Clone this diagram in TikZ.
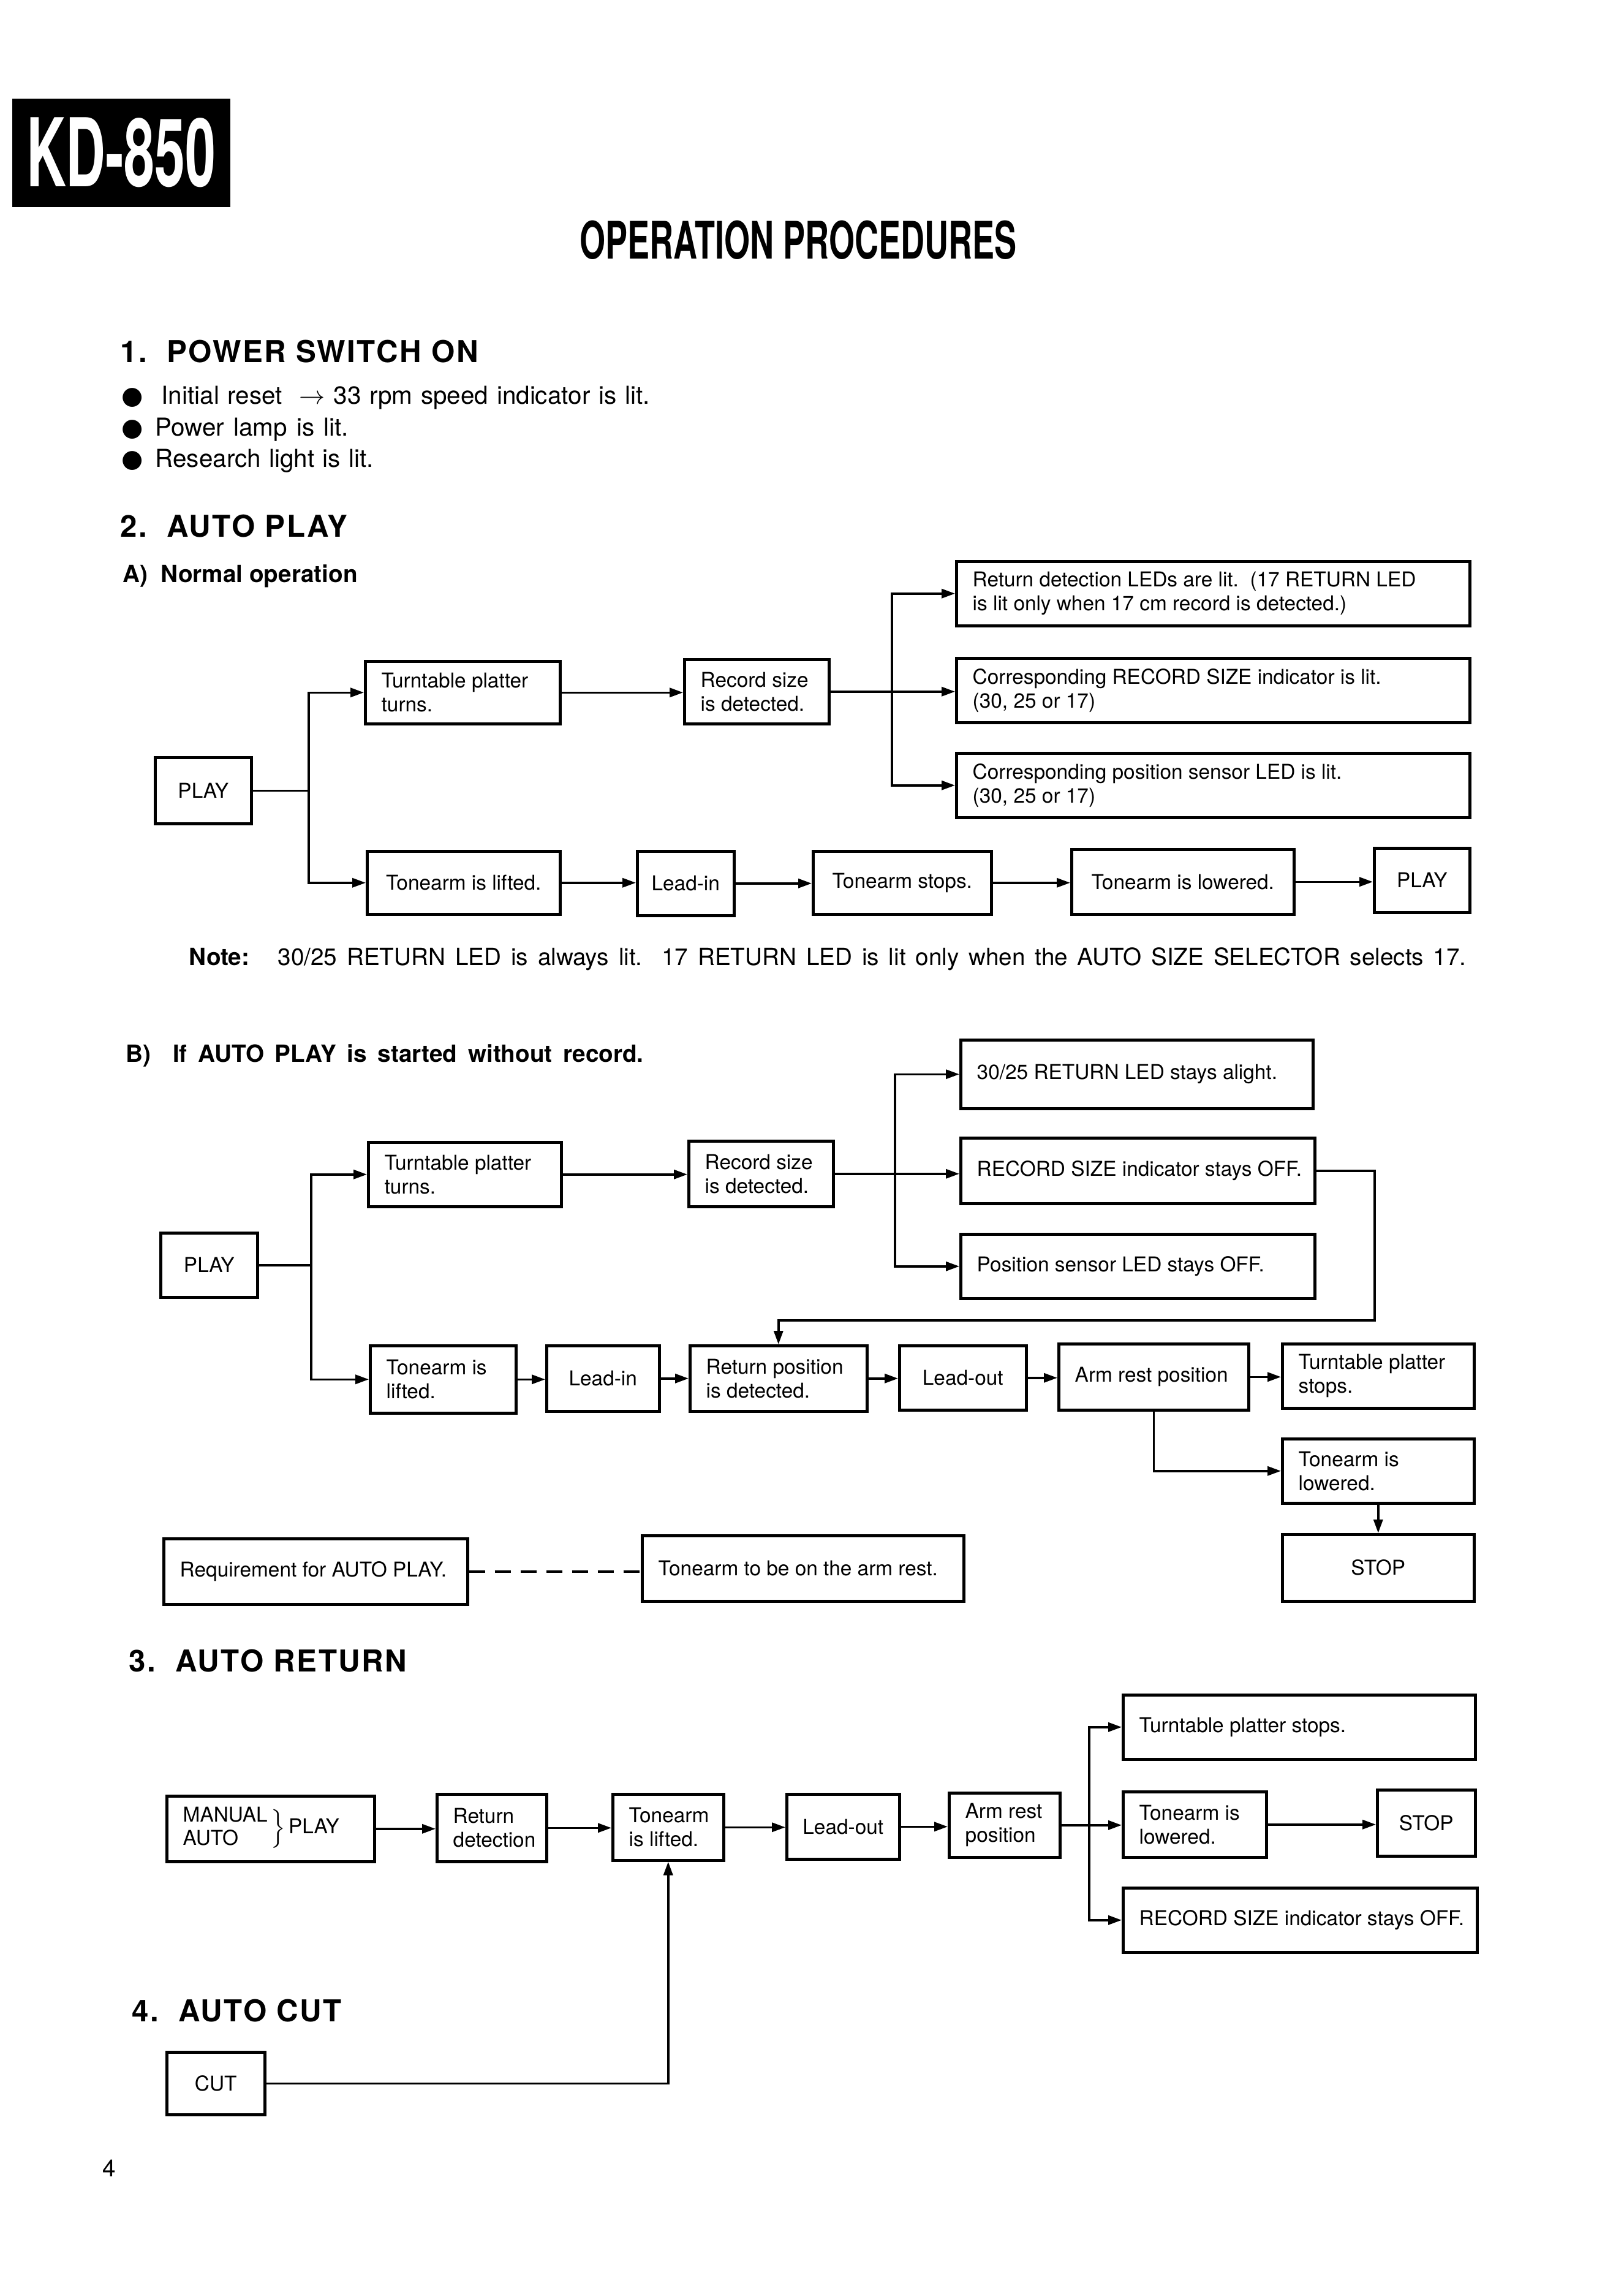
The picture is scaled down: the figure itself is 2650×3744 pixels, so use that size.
\documentclass[tikz,border=0pt]{standalone}
\usepackage{fontspec}
\usepackage{graphicx}
\setmainfont{TeX Gyre Heros}
\newfontfamily\dejavu{DejaVu Sans}
\newfontfamily\hfont[LetterSpace=5]{TeX Gyre Heros}
\usetikzlibrary{arrows.meta,calc}
\tikzset{
 boxr/.style={draw,line width=0.45mm,inner sep=0pt,anchor=north west},
 boxt/.style={inner sep=0pt,align=left,font=\fontsize{9.5}{11}\selectfont},
 conn/.style={line width=0.35mm},
 arr/.style={conn,-{Triangle[length=2.2mm,width=1.5mm]}},
 head/.style={anchor=base west,inner sep=0pt,font=\fontsize{14}{16}\selectfont\hfont\bfseries},
 sub/.style={anchor=base west,inner sep=0pt,font=\fontsize{11}{13}\selectfont\bfseries},
 body/.style={anchor=base west,inner sep=0pt,font=\fontsize{11.5}{13}\selectfont},
}
\newcommand\bxl[6]{%
 \pgfmathsetlengthmacro\bxw{(#4-#2)*0.1mm}%
 \pgfmathsetlengthmacro\bxh{(#5-#3)*0.1mm}%
 \node[boxr,minimum width=\bxw,minimum height=\bxh] (#1) at (#2,#3) {};%
 \node[boxt,anchor=west] (#1t) at ([xshift=2.8mm]#1.west) {#6};}
\newcommand\bxc[6]{%
 \pgfmathsetlengthmacro\bxw{(#4-#2)*0.1mm}%
 \pgfmathsetlengthmacro\bxh{(#5-#3)*0.1mm}%
 \node[boxr,minimum width=\bxw,minimum height=\bxh] (#1) at (#2,#3) {};%
 \node[boxt,align=center] (#1t) at (#1.center) {#6};}
\begin{document}
\begin{tikzpicture}[x=0.1mm,y=-0.1mm]
\path[use as bounding box] (0,0) rectangle (2650,3744);
\fill[white] (0,0) rectangle (2650,3744);

% ---- title block
\node[fill=black,text=white,anchor=north west,minimum width=35.6mm,minimum height=17.7mm,inner sep=0pt,
  font=\fontsize{44}{44}\selectfont\bfseries] (kd) at (19,160) {\scalebox{0.58}[1]{KD-850}};
\node[anchor=base,inner sep=0pt,font=\fontsize{24}{24}\selectfont\bfseries] (title) at (1303,423)
  {\scalebox{0.64}[1]{OPERATION PROCEDURES}};

% ---- 1. power switch on
\node[head] (h1) at (196,592) {1.\ \ POWER SWITCH ON};
\node[body] (bu1) at (198,659) {\dejavu ●};
\node[body] (t1) at (263,659) {\makebox[79.7mm][s]{Initial reset \ $\rightarrow$ 33 rpm speed indicator is lit.}};
\node[body] (bu2) at (198,711) {\dejavu ●};
\node[body] (t2) at (253,711) {\makebox[31.5mm][s]{Power lamp is lit.}};
\node[body] (bu3) at (198,762) {\dejavu ●};
\node[body] (t3) at (253,762) {\makebox[35.6mm][s]{Research light is lit.}};

% ---- 2. auto play
\node[head] (h2) at (196,876) {2.\ \ AUTO PLAY};
\node[sub] (hA) at (200,950) {A)\ \ Normal operation};

\bxc{playA}{251}{1234}{408}{1342}{PLAY}
\bxl{tpA}{594}{1077}{912}{1179}{Turntable platter\\turns.}
\bxl{rsA}{1115}{1074}{1351}{1179}{Record size\\is detected.}
\bxl{r1A}{1559}{914}{2397}{1019}{Return detection LEDs are lit.\ \ (17 RETURN LED\\is lit only when 17 cm record is detected.)}
\bxl{r2A}{1559}{1072}{2397}{1177}{Corresponding RECORD SIZE indicator is lit.\\(30, 25 or 17)}
\bxl{r3A}{1559}{1227}{2397}{1332}{Corresponding position sensor LED is lit.\\(30, 25 or 17)}
\bxc{tlA}{597}{1387}{912}{1490}{Tonearm is lifted.}
\bxc{liA}{1038}{1387}{1196}{1492}{Lead-in}
\bxc{tsA}{1325}{1387}{1616}{1490}{Tonearm stops.}
\bxc{tlwA}{1747}{1384}{2110}{1490}{Tonearm is lowered.}
\bxc{pl2A}{2241}{1382}{2397}{1487}{PLAY}

\coordinate (jA) at (504,0);
\coordinate (jA2) at (1456,0);
\draw[conn] (playA.east) -- (playA.east -| jA);
\draw[arr] (playA.east -| jA) |- (tpA.west);
\draw[arr] (playA.east -| jA) |- (tlA.west);
\draw[arr] (tpA.east) -- (tpA.east -| rsA.west);
\draw[arr] (rsA.east) -- (rsA.east -| r2A.west);
\draw[arr] (rsA.east -| jA2) |- (r1A.west);
\draw[arr] (rsA.east -| jA2) |- (r3A.west);
\draw[arr] (tlA.east) -- (tlA.east -| liA.west);
\draw[arr] (liA.east) -- (liA.east -| tsA.west);
\draw[arr] (tsA.east) -- (tsA.east -| tlwA.west);
\draw[arr] (tlwA.east) -- (tlwA.east -| pl2A.west);

\node[body,font=\fontsize{11}{13}\selectfont\bfseries] (notel) at (308,1575) {Note:};
\node[body,font=\fontsize{11}{13}\selectfont] (note) at (453,1575)
  {\makebox[194mm][s]{30/25 RETURN LED is always lit.\ \ 17 RETURN LED is lit only when the AUTO SIZE SELECTOR selects 17.}};

% ---- B
\node[sub] (hB) at (205,1733) {\makebox[84.5mm][s]{B)\ \ If AUTO PLAY is started without record.}};

\bxc{playB}{260}{2010}{418}{2115}{PLAY}
\bxl{tpB}{599}{1862}{914}{1967}{Turntable platter\\turns.}
\bxl{rsB}{1122}{1860}{1358}{1967}{Record size\\is detected.}
\bxl{r1B}{1566}{1695}{2141}{1807}{30/25 RETURN LED stays alight.}
\bxl{r2B}{1566}{1855}{2144}{1962}{RECORD SIZE indicator stays OFF.}
\bxl{r3B}{1566}{2012}{2144}{2117}{Position sensor LED stays OFF.}
\bxl{tlB}{602}{2194}{840}{2304}{Tonearm is\\lifted.}
\bxc{liB}{890}{2194}{1074}{2301}{Lead-in}
\bxl{rpB}{1124}{2194}{1413}{2301}{Return position\\is detected.}
\bxc{loB}{1466}{2194}{1673}{2299}{Lead-out}
\bxl{arB}{1726}{2191}{2036}{2299}{Arm rest position}
\bxl{tpsB}{2091}{2191}{2404}{2296}{Turntable platter\\stops.}
\bxl{tlwB}{2091}{2346}{2404}{2451}{Tonearm is\\lowered.}
\bxc{stB}{2091}{2502}{2404}{2611}{STOP}
\bxl{req}{265}{2509}{761}{2616}{Requirement for AUTO PLAY.}
\bxl{tarm}{1046}{2504}{1571}{2611}{Tonearm to be on the arm rest.}

\coordinate (jB) at (508,0);
\coordinate (jB2) at (1461,0);
\coordinate (kB) at (2244,2155);
\draw[conn] (playB.east) -- (playB.east -| jB);
\draw[arr] (playB.east -| jB) |- (tpB.west);
\draw[arr] (playB.east -| jB) |- (tlB.west);
\draw[arr] (tpB.east) -- (tpB.east -| rsB.west);
\draw[arr] (rsB.east) -- (rsB.east -| r2B.west);
\draw[arr] (rsB.east -| jB2) |- (r1B.west);
\draw[arr] (rsB.east -| jB2) |- (r3B.west);
\draw[arr] (r2B.east) -| (kB) -| (rpB.north);
\draw[arr] (tlB.east) -- (tlB.east -| liB.west);
\draw[arr] (liB.east) -- (liB.east -| rpB.west);
\draw[arr] (rpB.east) -- (rpB.east -| loB.west);
\draw[arr] (loB.east) -- (loB.east -| arB.west);
\draw[arr] (arB.east) -- (arB.east -| tpsB.west);
\draw[arr] (arB.south) |- (tlwB.west);
\draw[arr] (tlwB.south) -- (stB.north);
\draw[conn,dash pattern=on 2.6mm off 1.6mm] (req.east) -- (req.east -| tarm.west);

% ---- 3. auto return
\node[head] (h3) at (210,2728) {3.\ \ AUTO RETURN};
\bxl{mp}{270}{2929}{609}{3036}{\begin{tabular}{@{}l@{}}MANUAL\\AUTO\end{tabular}\,$\Bigr\}$\,PLAY}
\bxl{rd}{711}{2926}{890}{3036}{Return\\detection}
\bxl{tl3}{998}{2926}{1179}{3034}{Tonearm\\is lifted.}
\bxc{lo3}{1282}{2926}{1466}{3032}{Lead-out}
\bxl{ar3}{1547}{2924}{1728}{3029}{Arm rest\\position}
\bxl{tps3}{1831}{2764}{2406}{2869}{Turntable platter stops.}
\bxl{tlw3}{1831}{2922}{2065}{3029}{Tonearm is\\lowered.}
\bxc{st3}{2246}{2919}{2406}{3027}{STOP}
\bxl{rso3}{1831}{3079}{2409}{3184}{RECORD SIZE indicator stays OFF.}

\coordinate (j3) at (1778,0);
\draw[arr] (mp.east) -- (mp.east -| rd.west);
\draw[arr] (rd.east) -- (rd.east -| tl3.west);
\draw[arr] (tl3.east) -- (tl3.east -| lo3.west);
\draw[arr] (lo3.east) -- (lo3.east -| ar3.west);
\draw[arr] (ar3.east) -- (ar3.east -| tlw3.west);
\draw[arr] (ar3.east -| j3) |- (tps3.west);
\draw[arr] (ar3.east -| j3) |- (rso3.west);
\draw[arr] (tlw3.east) -- (tlw3.east -| st3.west);

% ---- 4. auto cut
\node[head] (h4) at (215,3299) {4.\ \ AUTO CUT};
\bxc{cut}{270}{3347}{430}{3449}{CUT}
\draw[arr] (cut.east) -| (tl3.south);

\node[body,font=\fontsize{11}{13}\selectfont] (pg) at (167,3552) {4};
\end{tikzpicture}
\end{document}
